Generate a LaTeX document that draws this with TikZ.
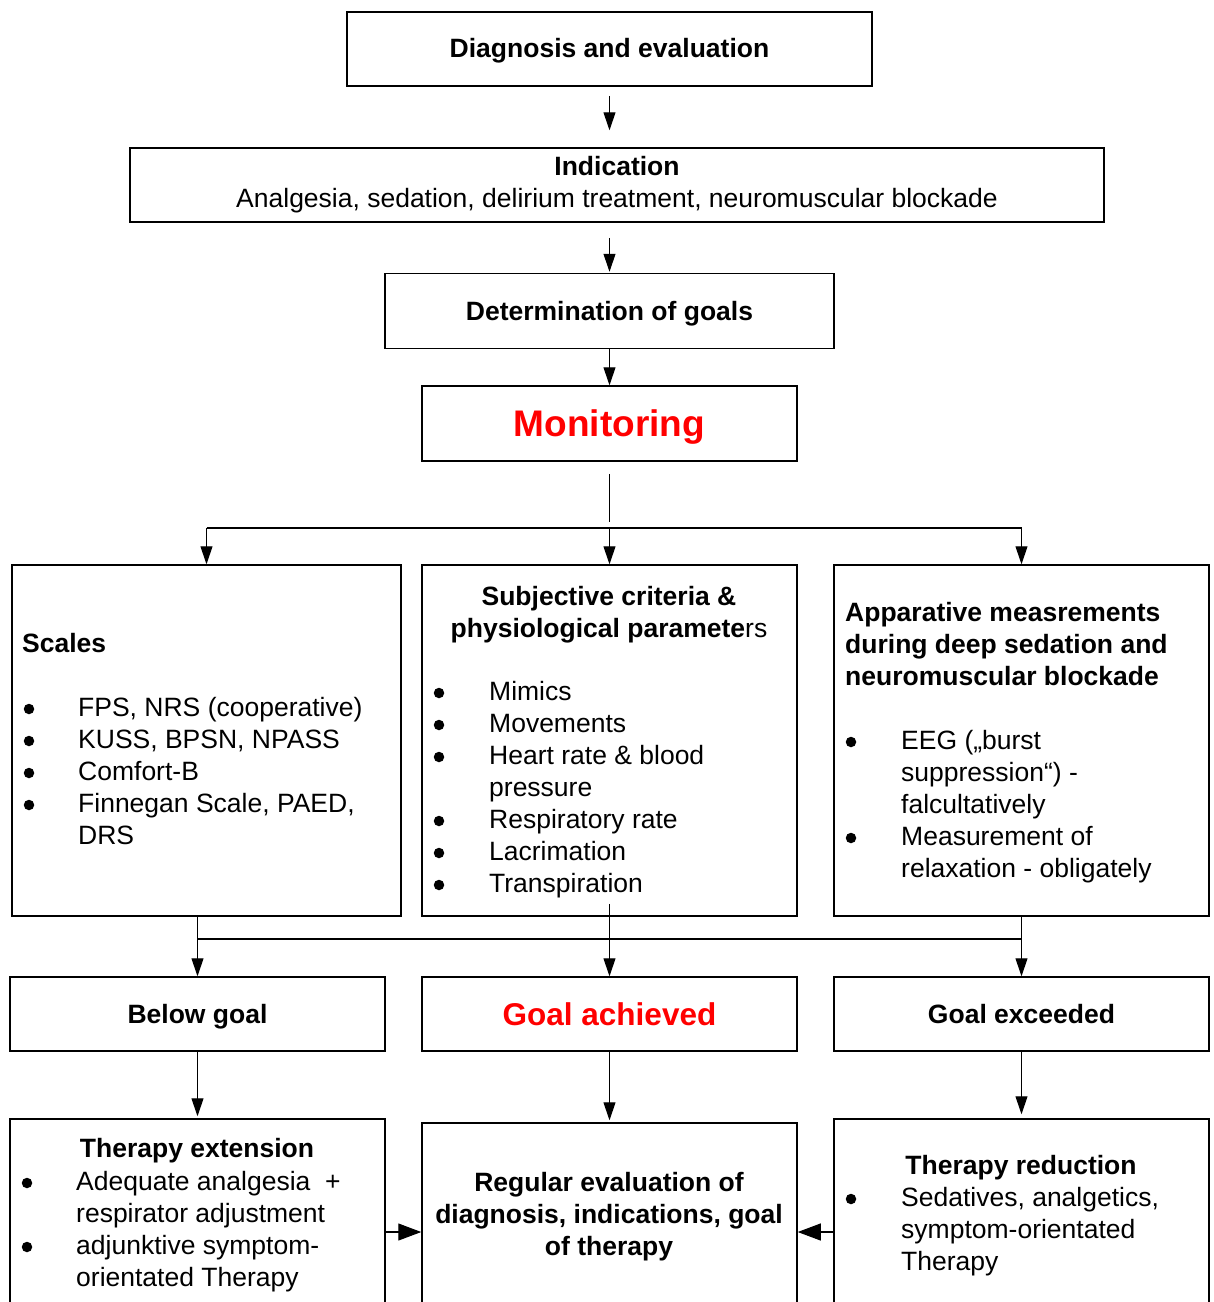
\documentclass[tikz,border=0pt]{standalone}
\usepackage{fontspec}
\setmainfont{Liberation Sans}
\usetikzlibrary{arrows.meta}

\begin{document}
\begin{tikzpicture}[x=1pt, y=-1pt,
  box/.style={draw, line width=1.5pt, inner sep=0pt},
  txt/.style={inner sep=0pt, font=\fontsize{26.5}{32}\selectfont},
  hd/.style={inner sep=0pt, font=\fontsize{26.5}{32}\selectfont\bfseries},
  capcentred/.style={text height=19pt, text depth=0pt},
  li/.style={txt, anchor=base west},
  dot/.style={circle, fill, inner sep=0pt, minimum size=10.5pt},
  ttl/.style={hd, anchor=base},
  link/.style={line width=1.1pt},
  arr/.style={line width=1.1pt, -{Triangle[length=18pt,width=12pt]}},
  bigarr/.style={line width=1.1pt, -{Triangle[length=23pt,width=17pt]}}]

\useasboundingbox (0,0) rectangle (1214,1302);
\fill[white] (0,0) rectangle (1214,1302);
\clip (0,0) rectangle (1214,1302);

% ---------- upper chain ----------
\node[box, hd, text height=19pt, text depth=3pt, minimum width=525pt, minimum height=74pt] (diag) at (609.5,49) {Diagnosis and evaluation};
\node[box, txt, align=center, minimum width=974pt, minimum height=74pt] (ind) at (617,185)
  {\textbf{Indication}\\Analgesia, sedation, delirium treatment, neuromuscular blockade};
\node[box, hd, capcentred, minimum width=449pt, minimum height=75pt] (goals) at (609.5,311) {Determination of goals};
\node[box, inner sep=0pt, font=\fontsize{37}{40}\selectfont\bfseries, text=red,
      text height=26.5pt, text depth=0pt,
      minimum width=375pt, minimum height=75pt] (mon) at (609.5,423.5) {Monitoring};

\draw[arr] ([yshift=-9pt]diag.south) -- ([yshift=17pt]diag.south |- ind.north);
\draw[arr] ([yshift=-15pt]diag.south |- ind.south) -- ([yshift=1pt]goals.north);
\draw[arr] (goals.south) -- (mon.north);

% ---------- assessment boxes ----------
\node[box, minimum width=389pt, minimum height=351pt] (scales) at (206.5,740.5) {};
\node[box, minimum width=375pt, minimum height=351pt] (subj) at (609.5,740.5) {};
\node[box, minimum width=375pt, minimum height=351pt] (app) at (1021.5,740.5) {};

\coordinate (split) at (609,528);
\draw[link] ([yshift=-12pt]mon.south) -- ([yshift=-60pt]mon.south);
\draw[link] (scales.north |- split) -- (app.north |- split);
\draw[arr] (scales.north |- split) -- (scales.north);
\draw[arr] (subj.north |- split) -- (subj.north);
\draw[arr] (app.north |- split) -- (app.north);

% Scales
\node[hd, anchor=base west] (scT) at (22,652.5) {Scales};
\node[dot] (scb1) at (29,709) {};
\node[dot] (scb2) at (29,741) {};
\node[dot] (scb3) at (29,773) {};
\node[dot] (scb4) at (29,805) {};
\node[li] (sc1) at (78,716.5) {FPS, NRS (cooperative)};
\node[li] (sc2) at (78,748.5) {KUSS, BPSN, NPASS};
\node[li] (sc3) at (78,780.5) {Comfort-B};
\node[li] (sc4) at (78,812.5) {Finnegan Scale, PAED,};
\node[li] (sc5) at (78,844.5) {DRS};

% Subjective criteria
\node[ttl] (suT1) at (609,605.5) {Subjective criteria \&};
\node[ttl] (suT2) at (609,637.5) {physiological paramete\mdseries rs};
\node[dot] (sub1) at (439,693) {};
\node[dot] (sub2) at (439,725) {};
\node[dot] (sub3) at (439,757) {};
\node[dot] (sub4) at (439,821) {};
\node[dot] (sub5) at (439,853) {};
\node[dot] (sub6) at (439,885) {};
\node[li] (su1) at (489,700.5) {Mimics};
\node[li] (su2) at (489,732.5) {Movements};
\node[li] (su3) at (489,764.5) {Heart rate \& blood};
\node[li] (su4) at (489,796.5) {pressure};
\node[li] (su5) at (489,828.5) {Respiratory rate};
\node[li] (su6) at (489,860.5) {Lacrimation};
\node[li] (su7) at (489,892.5) {Transpiration};

% Apparative measurements
\node[hd, anchor=base west] (apT1) at (845,621.5) {Apparative measrements};
\node[hd, anchor=base west] (apT2) at (845,653.5) {during deep sedation and};
\node[hd, anchor=base west] (apT3) at (845,685.5) {neuromuscular blockade};
\node[dot] (apb1) at (851,742) {};
\node[dot] (apb2) at (851,838) {};
\node[li] (ap1) at (901,749.5) {EEG („burst};
\node[li] (ap2) at (901,781.5) {suppression“) -};
\node[li] (ap3) at (901,813.5) {falcultatively};
\node[li] (ap4) at (901,845.5) {Measurement of};
\node[li] (ap5) at (901,877.5) {relaxation - obligately};

% ---------- outcome boxes ----------
\node[box, hd, capcentred, minimum width=375pt, minimum height=74pt] (below) at (197.5,1014) {Below goal};
\node[box, inner sep=0pt, font=\fontsize{31.5}{36}\selectfont\bfseries, text=red,
      text height=22.5pt, text depth=0pt,
      minimum width=375pt, minimum height=74pt] (goal) at (609.5,1014) {Goal achieved};
\node[box, hd, capcentred, minimum width=375pt, minimum height=74pt] (exc) at (1021.5,1014) {Goal exceeded};

\coordinate (merge) at (609,939);
\draw[link] (below.north |- merge) -- (exc.north |- merge);
\draw[arr] (below.north |- scales.south) -- (below.north);
\draw[arr] ([yshift=13pt]subj.south) -- (goal.north);
\draw[arr] (exc.north |- app.south) -- (exc.north);

% ---------- therapy boxes ----------
\node[box, minimum width=375pt, minimum height=211pt] (ext) at (197.5,1224.5) {};
\node[box, minimum width=375pt, minimum height=207pt] (reg) at (609.5,1226.5) {};
\node[box, minimum width=375pt, minimum height=211pt] (red) at (1021.5,1224.5) {};

\draw[arr] (below.south) -- ([yshift=2pt]ext.north);
\draw[arr] (goal.south) -- ([yshift=2pt]reg.north);
\draw[arr] (exc.south) -- ([yshift=4pt]red.north);

\coordinate (mid) at (609,1232);
\draw[bigarr] (ext.east |- mid) -- (reg.west |- mid);
\draw[bigarr] (red.west |- mid) -- (reg.east |- mid);

% Therapy extension
\node[ttl] (exT) at (197,1157.5) {Therapy extension};
\node[dot] (exb1) at (27,1183) {};
\node[dot] (exb2) at (27,1247) {};
\node[li] (ex1) at (76,1190.5) {Adequate analgesia \ +};
\node[li] (ex2) at (76,1222.5) {respirator adjustment};
\node[li] (ex3) at (76,1254.5) {adjunktive symptom-};
\node[li] (ex4) at (76,1286.5) {orientated Therapy};

% Regular evaluation
\node[ttl] (rg1) at (609,1191.5) {Regular evaluation of};
\node[ttl] (rg2) at (609,1223.5) {diagnosis, indications, goal};
\node[ttl] (rg3) at (609,1255.5) {of therapy};

% Therapy reduction
\node[ttl] (rdT) at (1021,1174.5) {Therapy reduction};
\node[dot] (rdb1) at (851,1199) {};
\node[li] (rd1) at (901,1206.5) {Sedatives, analgetics,};
\node[li] (rd2) at (901,1238.5) {symptom-orientated};
\node[li] (rd3) at (901,1270.5) {Therapy};
\end{tikzpicture}
\end{document}
